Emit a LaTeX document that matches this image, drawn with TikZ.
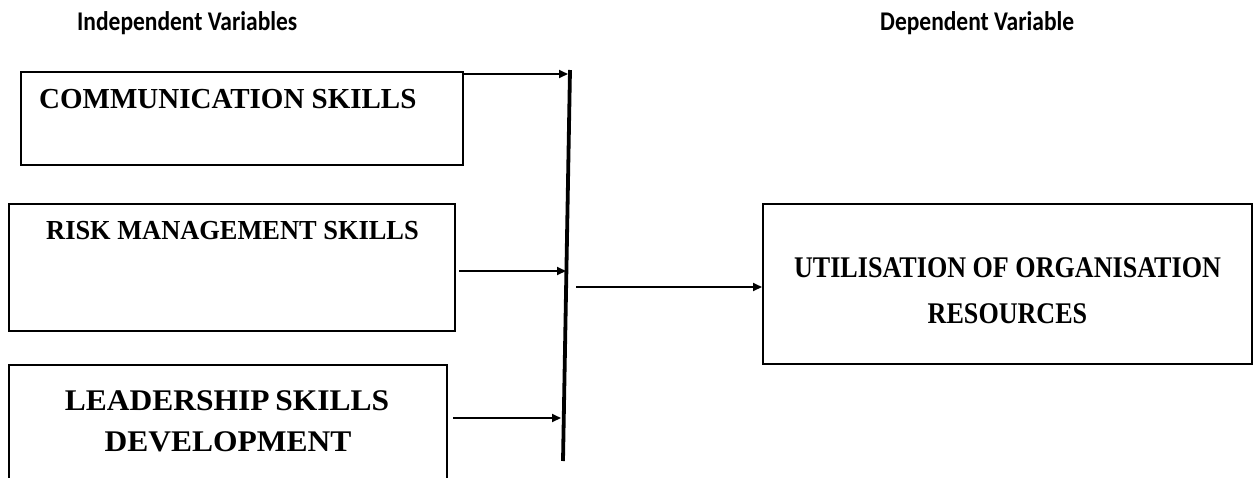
\documentclass[tikz,border=0pt]{standalone}
\usepackage{fontspec}
\setmainfont{Liberation Serif}
\newfontfamily\headfont[FakeStretch=0.87]{Carlito}
\newfontfamily\riskfont[FakeStretch=0.96]{Liberation Serif}
\newfontfamily\resfont[FakeStretch=0.87]{Liberation Serif}
\newfontfamily\leadfont[FakeStretch=1.05]{Liberation Serif}
\usetikzlibrary{arrows.meta}
\begin{document}
\begin{tikzpicture}[x=1pt,y=-1pt,
  box/.style={draw=black,line width=2pt,inner sep=0pt,anchor=north west},
  heading/.style={inner sep=0pt,anchor=base west,font=\headfont\bfseries\fontsize{27}{32}\selectfont},
  boxtext/.style={inner sep=0pt,anchor=base,font=\bfseries\fontsize{29}{34}\selectfont},
  link/.style={line width=2pt,-{Triangle[length=9pt,width=8pt]}},
  bar/.style={line width=3.8pt}]
\useasboundingbox (0,0) rectangle (1254,477);

% headings
\node[heading] (hind) at (77,30.5) {Independent Variables};
\node[heading] (hdep) at (880,30.5) {Dependent Variable};

% independent variable boxes
\node[box,minimum width=442pt,minimum height=93pt] (cs) at (20,71) {};
\node[boxtext,anchor=base west] (cst) at (39,108.5) {COMMUNICATION SKILLS};

\node[box,minimum width=446pt,minimum height=127pt] (rm) at (8,203) {};
\node[boxtext,font=\riskfont\bfseries\fontsize{27.5}{32}\selectfont] (rmt) at (232.5,239.5) {RISK MANAGEMENT SKILLS};

\node[box,minimum width=438pt,minimum height=130pt] (ls) at (8,364) {};
\node[boxtext,font=\leadfont\bfseries\fontsize{30}{35}\selectfont] (lst1) at (227,410) {LEADERSHIP\hspace{-2pt} SKILLS};
\node[boxtext,font=\leadfont\bfseries\fontsize{30}{35}\selectfont] (lst2) at (228,451) {DEVELOPMENT};

% dependent variable box
\node[box,minimum width=489pt,minimum height=160pt] (ur) at (762,203) {};
\node[boxtext,font=\resfont\bfseries\fontsize{30}{35}\selectfont] (urt1) at (1007.5,277) {UTILISATION OF ORGANISATION};
\node[boxtext,font=\resfont\bfseries\fontsize{30}{35}\selectfont] (urt2) at (1007.5,323) {RESOURCES};

% collecting bar
\coordinate (bartop) at (570,70);
\coordinate (barbot) at (563,461);
\draw[bar] (bartop) -- (barbot);

% connector ends
\coordinate (csin) at (568,74);
\coordinate (rmin) at (566,271);
\coordinate (lsin) at (561,418);
\coordinate (outstart) at (576,287);

\draw[link] (cs.north east |- csin) -- (csin);
\draw[link] ([xshift=3pt]rm.east |- rmin) -- (rmin);
\draw[link] ([xshift=5pt]ls.east |- lsin) -- (lsin);
\draw[link] (outstart) -- (ur.west |- outstart);
\end{tikzpicture}
\end{document}
